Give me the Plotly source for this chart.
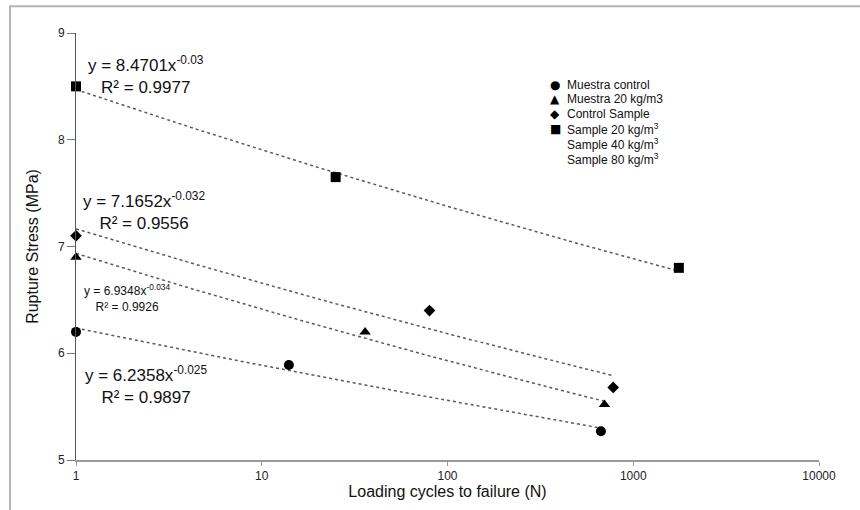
import numpy as np
import plotly.graph_objects as go

# ---- data ----
series_names = ["Muestra control", "Muestra 20 kg/m3", "Control Sample", "Sample 20 kg/m<sup>3</sup>"]
ctrl_x = [1, 14, 670]
ctrl_y = [6.20, 5.89, 5.27]
m20_x = [1, 36, 700]
m20_y = [6.90, 6.20, 5.52]
cs_x = [1, 80, 780]
cs_y = [7.10, 6.40, 5.68]
s20_x = [1, 25, 1760]
s20_y = [8.50, 7.65, 6.80]

# power trendline coefficients (y = a * x^b), as printed on the chart
fit_a = [6.2358, 6.9348, 7.1652, 8.4701]
fit_b = [-0.025, -0.034, -0.032, -0.03]
fit_r2 = ["0.9897", "0.9926", "0.9556", "0.9977"]

legend_labels = ["Muestra control", "Muestra 20 kg/m3", "Control Sample",
                 "Sample 20 kg/m<sup>3</sup>", "Sample 40 kg/m<sup>3</sup>", "Sample 80 kg/m<sup>3</sup>"]
legend_glyphs = ["\u25CF", "\u25B2", "\u25C6", "\u25A0", "", ""]

x_ticks = [1, 10, 100, 1000, 10000]
y_ticks = [5, 6, 7, 8, 9]

FONT = "Liberation Sans, Arial, sans-serif"
W, H = 860, 510
L, R, T, B = 76, 41, 33, 47
PW, PH = W - L - R, H - T - B


def px(x):
    return (x - L) / PW


def py(y):
    return (H - B - y) / PH


fig = go.Figure()

xs_all = [ctrl_x, m20_x, cs_x, s20_x]
ys_all = [ctrl_y, m20_y, cs_y, s20_y]
symbols = ["circle", "triangle-up", "diamond", "square"]
sizes = [10, 10, 9, 10]

# trendlines
for xs, a, b in zip(xs_all, fit_a, fit_b):
    xt = np.logspace(0, np.log10(max(xs)), 60)
    fig.add_trace(go.Scatter(x=xt, y=a * xt ** b, mode="lines",
                             line=dict(color="#5a5a5a", width=1.5, dash="dot"),
                             showlegend=False, hoverinfo="skip"))

# data markers
for name, xs, ys, sym, sz in zip(series_names, xs_all, ys_all, symbols, sizes):
    fig.add_trace(go.Scatter(x=xs, y=ys, mode="markers", name=name,
                             marker=dict(symbol=sym, size=sz, color="black"),
                             cliponaxis=False, showlegend=False))

annotations = []
# equation labels: (index into fit arrays, center px x, center px y, font size)
eq_pos = [(3, 146, 75, 17), (2, 144, 212, 17), (1, 127, 300, 12), (0, 146, 387, 17)]
for i, cx, cy, fs in eq_pos:
    txt = "y = %.4fx<sup>%s</sup><br>R\u00b2 = %s" % (fit_a[i], ("%g" % fit_b[i]), fit_r2[i])
    annotations.append(dict(xref="paper", yref="paper", x=px(cx), y=py(cy),
                            xanchor="center", yanchor="middle", showarrow=False,
                            align="center", text=txt,
                            font=dict(family=FONT, size=fs, color="#111")))

# legend (drawn as text)
leg_x_marker, leg_x_text = 555, 565
leg_y0, leg_dy = 85, 14.9
for k, (lab, gl) in enumerate(zip(legend_labels, legend_glyphs)):
    yy = leg_y0 + k * leg_dy
    if gl:
        annotations.append(dict(xref="paper", yref="paper", x=px(leg_x_marker), y=py(yy),
                                xanchor="center", yanchor="middle", showarrow=False,
                                text=gl, font=dict(family="DejaVu Sans", size=12, color="black")))
    annotations.append(dict(xref="paper", yref="paper", x=px(leg_x_text), y=py(yy),
                            xanchor="left", yanchor="middle", showarrow=False,
                            text=lab, font=dict(family=FONT, size=12, color="#111")))

fig.update_layout(
    width=W, height=H,
    margin=dict(l=L, r=R, t=T, b=B),
    paper_bgcolor="white", plot_bgcolor="white",
    showlegend=False,
    font=dict(family=FONT, size=12, color="#222"),
    annotations=annotations,
    shapes=[dict(type="rect", xref="paper", yref="paper",
                 x0=px(10), x1=px(880), y0=py(530), y1=py(6),
                 line=dict(color="#b4b4b4", width=2), layer="below")],
    xaxis=dict(type="log", range=[0, 4], tickvals=x_ticks, ticktext=[str(v) for v in x_ticks],
               showgrid=False, zeroline=False, showline=True, linecolor="#9a9a9a", linewidth=2,
               ticks="outside", ticklen=4, tickcolor="#9a9a9a", tickfont=dict(size=12, color="#222"),
               title=dict(text="Loading cycles to failure (N)", font=dict(size=16, color="#111"), standoff=3)),
    yaxis=dict(range=[5, 9], tickvals=y_ticks, showgrid=False, zeroline=False,
               showline=True, linecolor="#555", linewidth=1, ticks="outside", ticklen=8,
               tickcolor="#777", tickfont=dict(size=12, color="#222"),
               title=dict(text="Rupture Stress (MPa)", font=dict(size=16, color="#111"), standoff=15)),
)

fig.write_html("out.html")
